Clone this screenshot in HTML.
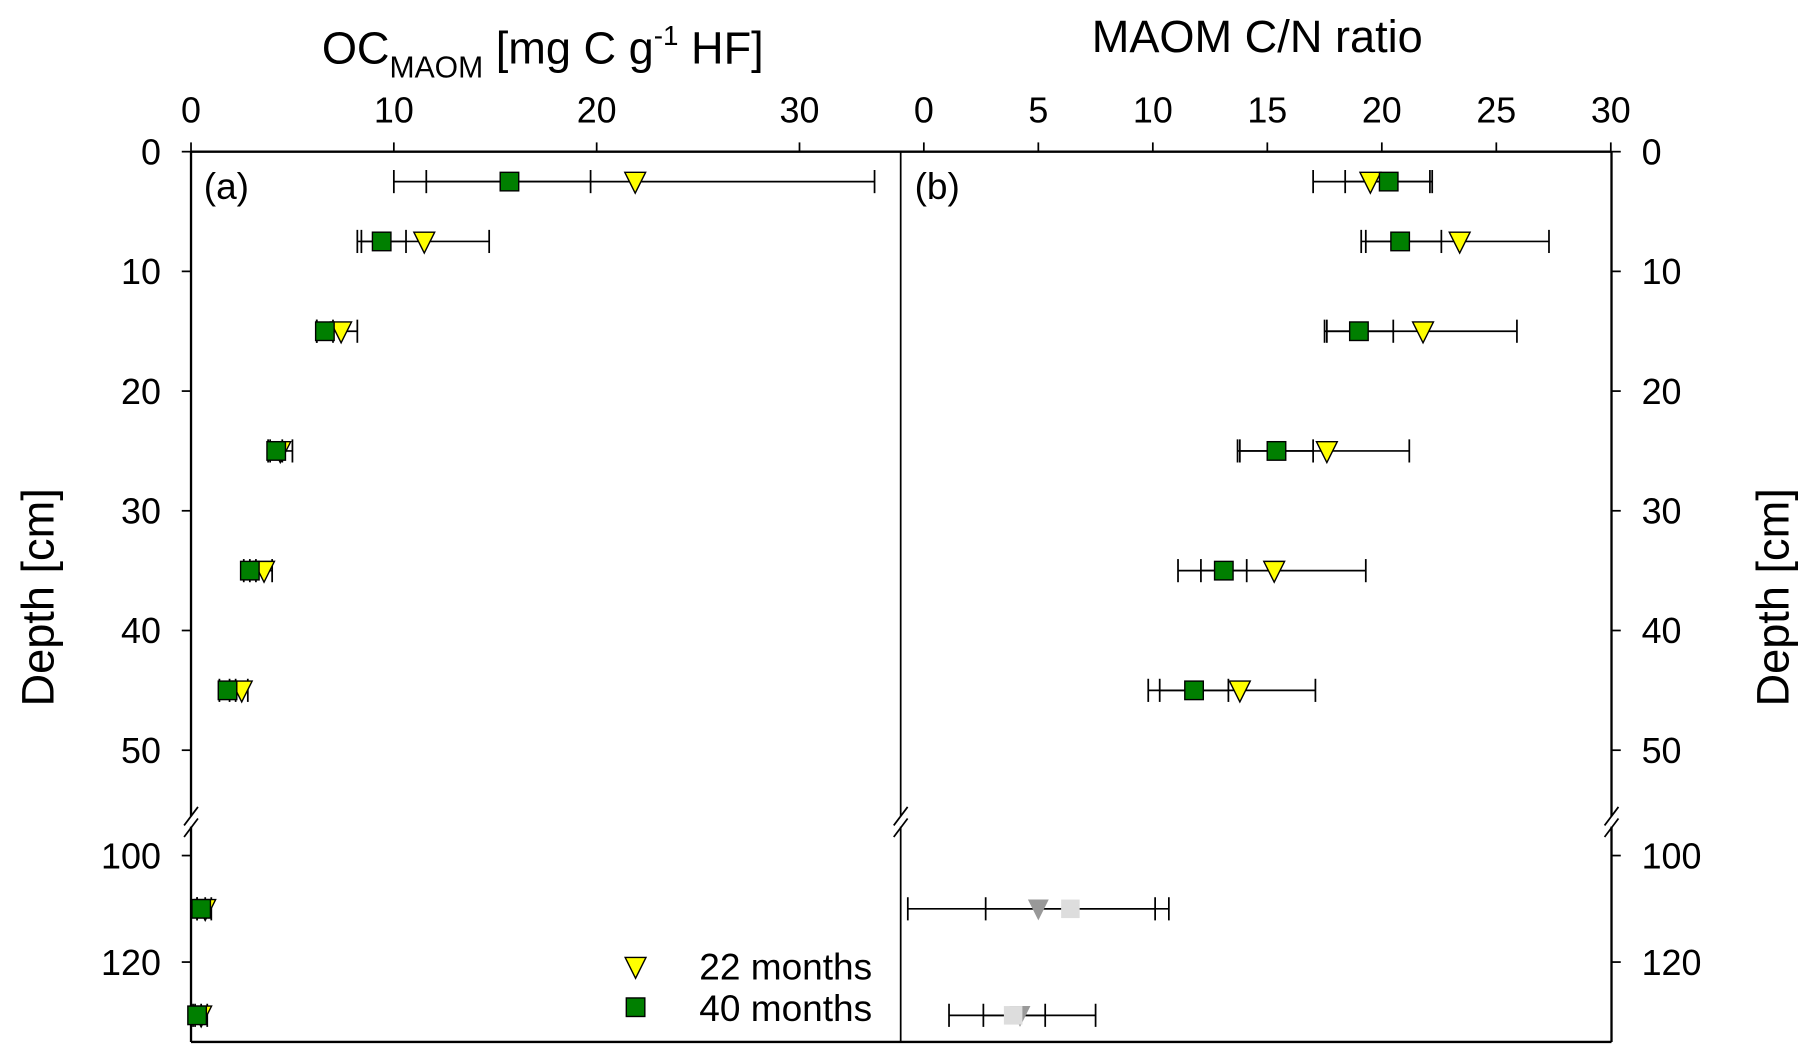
<!DOCTYPE html>
<html><head><meta charset="utf-8"><style>
html,body{margin:0;padding:0;background:#fff;}
svg{display:block;font-family:"Liberation Sans",Arial,sans-serif;}
</style></head><body>
<svg id="chart" width="1806" height="1057" viewBox="0 0 1560 913" preserveAspectRatio="none" xmlns="http://www.w3.org/2000/svg">
<g id="g"></g>
</svg>
<script>
const depths = [2.5, 7.5, 15, 25, 35, 45, 110, 130];
const ocSq = [15.7, 9.4, 6.6, 4.2, 2.9, 1.8, 0.5, 0.3];
const ocSqLo = [11.6, 8.2, 6.2, 3.9, 2.6, 1.4, 0.3, 0.1];
const ocSqHi = [19.7, 10.6, 7.0, 4.5, 3.2, 2.2, 0.7, 0.5];
const ocTri = [21.9, 11.5, 7.4, 4.4, 3.6, 2.5, 0.7, 0.5];
const ocTriLo = [10.0, 8.4, 6.2, 3.8, 2.9, 1.9, 0.3, 0.2];
const ocTriHi = [33.7, 14.7, 8.2, 5.0, 4.0, 2.8, 1.0, 0.8];
const cnSq = [20.3, 20.8, 19.0, 15.4, 13.1, 11.8, 6.4, 3.9];
const cnSqLo = [18.4, 19.1, 17.5, 13.7, 12.1, 10.3, 2.7, 2.6];
const cnSqHi = [22.2, 22.6, 20.5, 17.0, 14.1, 13.3, 10.1, 5.3];
const cnTri = [19.5, 23.4, 21.8, 17.6, 15.3, 13.8, 5.0, 4.2];
const cnTriLo = [17.0, 19.3, 17.6, 13.8, 11.1, 9.8, -0.7, 1.1];
const cnTriHi = [22.1, 27.3, 25.9, 21.2, 19.3, 17.1, 10.7, 7.5];
const ocTicks = [0, 10, 20, 30];
const cnTicks = [0, 5, 10, 15, 20, 25, 30];
const depthTicksUpper = [0, 10, 20, 30, 40, 50];
const depthTicksLower = [100, 120];

const NS = "http://www.w3.org/2000/svg";
const G = document.getElementById('g');
function el(tag, attrs, txt){const e=document.createElementNS(NS,tag);for(const k in attrs)e.setAttribute(k,attrs[k]);if(txt!==undefined)e.textContent=txt;G.appendChild(e);return e;}
const xOC = v => 165 + v*17.52;
const xCN = v => 798 + v*19.78;
function yD(d){ return d <= 55 ? 131 + d*10.34 : 739 + (d-100)*4.6; }
const L=165, M=778, R=1392, T=131, B=900;

let e;
e=el('line',{x1:L,y1:T,x2:R,y2:T,stroke:'#000','stroke-width':2});

e=el('line',{x1:L,y1:B,x2:R,y2:B,stroke:'#000','stroke-width':2});

[L,M,R].forEach(x=>{
  el('line',{x1:x,y1:T,x2:x,y2:705,stroke:'#000','stroke-width':x===M?1.5:2});
  el('line',{x1:x,y1:714,x2:x,y2:B,stroke:'#000','stroke-width':x===M?1.5:2});
  el('line',{x1:x-6,y1:713,x2:x+6,y2:697,stroke:'#000','stroke-width':1.5});
  el('line',{x1:x-6,y1:723,x2:x+6,y2:707,stroke:'#000','stroke-width':1.5});
});
ocTicks.forEach(v=>{const x=xOC(v);el('line',{x1:x,y1:T,x2:x,y2:T-8,stroke:'#000','stroke-width':1.5});
 e=el('text',{x:x,y:106,'font-size':31,'text-anchor':'middle'},v);});
cnTicks.forEach(v=>{const x=xCN(v);el('line',{x1:x,y1:T,x2:x,y2:T-8,stroke:'#000','stroke-width':1.5});
 e=el('text',{x:x,y:106,'font-size':31,'text-anchor':'middle'},v);});
depthTicksUpper.concat(depthTicksLower).forEach(v=>{const y=yD(v);
 el('line',{x1:L,y1:y,x2:L-8,y2:y,stroke:'#000','stroke-width':1.5});
 el('line',{x1:R,y1:y,x2:R+8,y2:y,stroke:'#000','stroke-width':1.5});
 e=el('text',{x:139,y:y+11,'font-size':31,'text-anchor':'end'},v);
 e=el('text',{x:1418,y:y+11,'font-size':31,'text-anchor':'start'},v);
});
e=el('text',{x:278,y:55,'font-size':39});

e.innerHTML='OC<tspan font-size="26" dy="12">MAOM</tspan><tspan dy="-12"> [mg C g</tspan><tspan font-size="24" dy="-16">-1</tspan><tspan dy="16"> HF]</tspan>';
e=el('text',{x:1086,y:45,'font-size':39,'text-anchor':'middle'},'MAOM C/N ratio');

e=el('text',{x:0,y:0,'font-size':39,'text-anchor':'middle',transform:'translate(46,516) rotate(-90)'},'Depth [cm]');

e=el('text',{x:0,y:0,'font-size':39,'text-anchor':'middle',transform:'translate(1545,516) rotate(-90)'},'Depth [cm]');

e=el('text',{x:176,y:172,'font-size':32},'(a)');
e=el('text',{x:790,y:172,'font-size':32},'(b)');

function errbar(xf,lo,hi,y){
  el('line',{x1:xf(lo),y1:y,x2:xf(hi),y2:y,stroke:'#000','stroke-width':1.5});
  [lo,hi].forEach(v=>el('line',{x1:xf(v),y1:y-10,x2:xf(v),y2:y+10,stroke:'#000','stroke-width':1.5}));
}
function tri(x,y,fill,stroke){return el('path',{d:`M${x-9},${y-8}L${x+9},${y-8}L${x},${y+10}Z`,fill:fill,stroke:stroke,'stroke-width':1.2});}
function sq(x,y,fill,stroke){return el('rect',{x:x-8,y:y-8,width:16,height:16,fill:fill,stroke:stroke,'stroke-width':1.2});}

depths.forEach((d,i)=>{
  const y=yD(d);
  errbar(xOC,ocTriLo[i],ocTriHi[i],y);
  errbar(xOC,ocSqLo[i],ocSqHi[i],y);
  e=tri(xOC(ocTri[i]),y,'#ffff00','#000');
  e=sq(xOC(ocSq[i]),y,'#007f00','#000');
  errbar(xCN,cnTriLo[i],cnTriHi[i],y);
  errbar(xCN,cnSqLo[i],cnSqHi[i],y);
  const deep=d>55;
  e=tri(xCN(cnTri[i]),y,deep?'#999':'#ffff00',deep?'none':'#000');
  e=sq(xCN(cnSq[i]),y,deep?'#ddd':'#007f00',deep?'none':'#000');
});
e=tri(549,835,'#ffff00','#000');
e=sq(549,870,'#007f00','#000');
e=el('text',{x:604,y:846,'font-size':32},'22 months');
e=el('text',{x:604,y:882,'font-size':32},'40 months');
</script>
</body></html>
